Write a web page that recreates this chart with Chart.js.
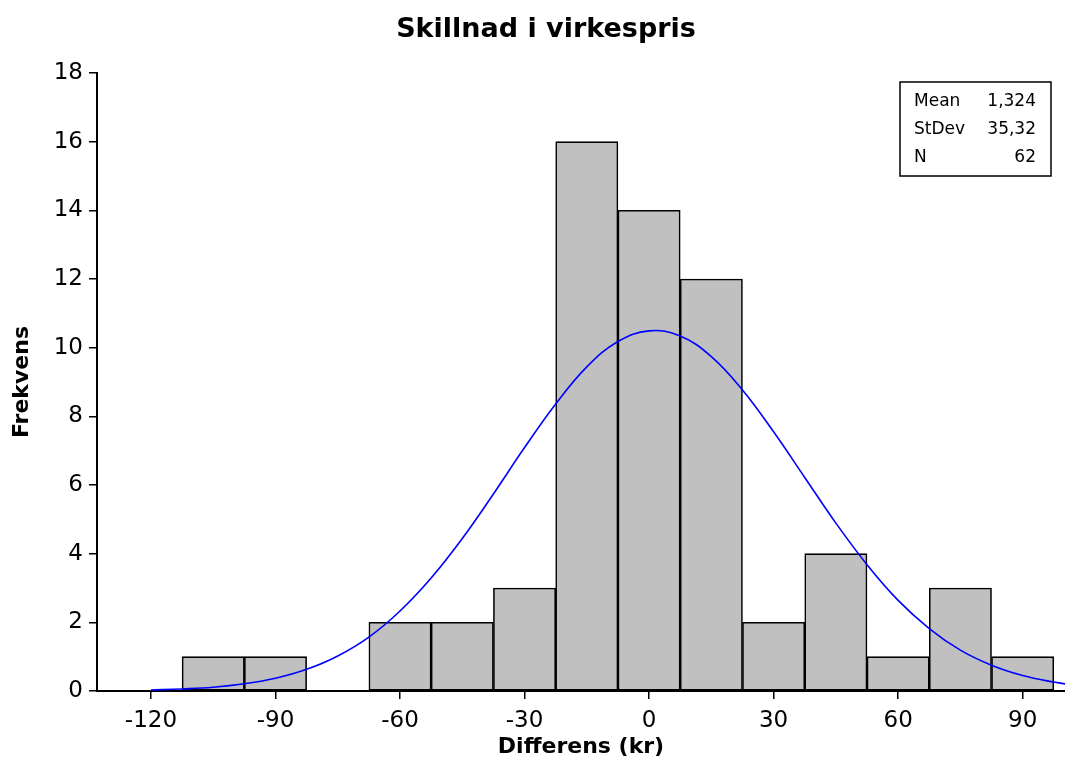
<!DOCTYPE html>
<html>
<head>
<meta charset="utf-8">
<script src="https://cdn.jsdelivr.net/npm/chart.js@4/dist/chart.umd.min.js"></script>
<style>
  html, body { margin: 0; padding: 0; background: #fff; }
  #wrap { width: 1065px; height: 764px; position: relative; }
</style>
</head>
<body>
<div id="wrap"><canvas id="histChart" width="1065" height="764"></canvas></div>
<script>
// histogram bins (bin width 15)
const binCenters = [-105, -90, -75, -60, -45, -30, -15, 0, 15, 30, 45, 60, 75, 90];
const binCounts = [1, 1, 0, 2, 2, 3, 16, 14, 12, 2, 4, 1, 3, 1];

// fitted normal curve
const curveX = [-120, -112.5, -105, -97.5, -90, -82.5, -75, -67.5, -60, -52.5, -45, -37.5, -30, -22.5,
  -15, -7.5, 0, 7.5, 15, 22.5, 30, 37.5, 45, 52.5, 60, 67.5, 75, 82.5, 90, 97.5, 102.5];
const curveY = [0.03, 0.06, 0.11, 0.21, 0.37, 0.63, 1.02, 1.57, 2.33, 3.29, 4.44, 5.74, 7.09, 8.36,
  9.44, 10.18, 10.49, 10.34, 9.74, 8.77, 7.55, 6.22, 4.89, 3.68, 2.64, 1.82, 1.19, 0.75, 0.45, 0.26, 0.17];

const xTicks = [-120, -90, -60, -30, 0, 30, 60, 90];
const yTicks = [0, 2, 4, 6, 8, 10, 12, 14, 16, 18];

// stats box
const statLabels = ['Mean', 'StDev', 'N'];
const statValues = ['1,324', '35,32', '62'];

const chartTitle = 'Skillnad i virkespris';
const FONT = "'DejaVu Sans', sans-serif";

const extrasPlugin = {
    id: 'extras',
    afterDraw(chart) {
        const ctx = chart.ctx;
        ctx.save();
        // title
        ctx.fillStyle = '#000';
        ctx.font = 'bold 27px ' + FONT;
        ctx.textAlign = 'center';
        ctx.textBaseline = 'middle';
        ctx.fillText(chartTitle, 546, 30);

        // stats box
        ctx.fillStyle = '#fff';
        ctx.fillRect(900, 82, 151, 94);
        ctx.strokeStyle = '#000';
        ctx.lineWidth = 1.5;
        ctx.strokeRect(900, 82, 151, 94);
        ctx.fillStyle = '#000';
        ctx.font = '17px ' + FONT;
        statLabels.forEach((lab, i) => {
            const y = 102 + i * 28;
            ctx.textAlign = 'left';
            ctx.fillText(lab, 914, y);
            ctx.textAlign = 'right';
            ctx.fillText(statValues[i], 1036, y);
        });
        ctx.restore();
    }
};

const ctx = document.getElementById('histChart').getContext('2d');
const histChart = new Chart(ctx, {
    type: 'bar',
    data: {
        datasets: [{
            type: 'line',
            data: curveX.map((x, i) => ({ x: x, y: curveY[i] })),
            borderColor: '#0000ff',
            borderWidth: 1.6,
            pointRadius: 0,
            tension: 0.4,
            order: 0
        }, {
            type: 'bar',
            data: binCenters.map((x, i) => ({ x: x, y: binCounts[i] })),
            backgroundColor: '#c0c0c0',
            borderColor: '#000',
            borderWidth: 1.6,
            borderSkipped: false,
            barPercentage: 1,
            categoryPercentage: 1,
            order: 1
        }]
    },
    options: {
        responsive: false,
        animation: false,
        layout: {
            padding: { top: 73, right: 0, left: 0, bottom: 0 }
        },
        plugins: {
            legend: { display: false },
            tooltip: { enabled: false }
        },
        scales: {
            x: {
                type: 'linear',
                min: -133,
                max: 100.2,
                offset: false,
                afterBuildTicks: (scale) => { scale.ticks = xTicks.map(v => ({ value: v })); },
                afterFit: (scale) => { scale.height = 73; },
                grid: { offset: false, drawOnChartArea: false, drawTicks: true, tickLength: 8, color: '#000', lineWidth: 1.5 },
                border: { display: true, color: '#000', width: 2 },
                ticks: { color: '#000', font: { family: FONT, size: 23 }, padding: 8, maxRotation: 0 },
                title: {
                    display: true,
                    text: 'Differens (kr)',
                    color: '#000',
                    font: { family: FONT, size: 22, weight: 'bold' },
                    padding: { top: 0, bottom: 4 }
                }
            },
            y: {
                min: 0,
                max: 18,
                afterBuildTicks: (scale) => { scale.ticks = yTicks.map(v => ({ value: v })); },
                afterFit: (scale) => { scale.width = 97; },
                grid: { drawOnChartArea: false, drawTicks: true, tickLength: 8, color: '#000', lineWidth: 1.5 },
                border: { display: true, color: '#000', width: 2 },
                ticks: { color: '#000', font: { family: FONT, size: 23 }, padding: 6 },
                title: {
                    display: true,
                    text: 'Frekvens',
                    color: '#000',
                    font: { family: FONT, size: 22, weight: 'bold' },
                    padding: { top: 9, bottom: 0 }
                }
            }
        }
    },
    plugins: [extrasPlugin]
});
</script>
</body>
</html>
